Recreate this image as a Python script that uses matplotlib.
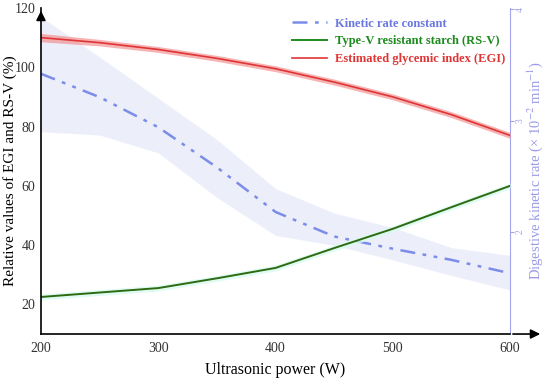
import matplotlib.pyplot as plt

# ultrasonic power (W)
power = [200, 250, 300, 350, 400, 450, 500, 550, 600]

# estimated glycemic index (%)
egi = [110, 108.3, 106, 103, 99.5, 95, 90, 84, 77]
egi_lo = [108.6, 107.2, 105, 102, 98.5, 94, 89, 83, 76]
egi_hi = [111.4, 109.4, 107, 104, 100.5, 96, 91, 85, 78]

# type-V resistant starch (%)
rsv = [22.5, 24, 25.5, 28.8, 32.3, 39, 45.5, 52.8, 60]
rsv_lo = [21.5, 23, 24.5, 27.8, 31.3, 38, 44.5, 51.8, 59]
rsv_hi = [23.5, 25, 26.5, 29.8, 33.3, 40, 46.5, 53.8, 61]

# kinetic rate constant (x 10^-2 min^-1)
krc = [3.42, 3.21, 2.94, 2.58, 2.18, 1.96, 1.85, 1.75, 1.63]
krc_lo = [2.90, 2.87, 2.71, 2.31, 1.97, 1.88, 1.75, 1.61, 1.48]
krc_hi = [3.93, 3.57, 3.20, 2.83, 2.39, 2.17, 2.04, 1.86, 1.79]

serif = 'Liberation Serif'
plt.rcParams['font.family'] = serif
plt.rcParams['mathtext.fontset'] = 'stix'

fig = plt.figure(figsize=(5.5, 3.8), dpi=100)
ax = fig.add_axes([0.0745, 0.121, 0.853, 0.858])
ax2 = ax.twinx()

red = '#e03535'
green = '#2f6a12'
blue = '#7b8de8'
lav = '#a4a4ee'
dashdot = (0, (6, 3, 1.5, 3, 1.5, 3))

# right axis: kinetic rate
ax2.fill_between(power, krc_lo, krc_hi, color='#e9ecfa', alpha=0.85, lw=0)
ax2.plot(power, krc, color=blue, lw=1.8, ls=dashdot)
ax2.set_ylim(1.085, 4.01)
ax2.set_yticks([2, 3, 4])
ax2.set_yticklabels(['2', '3', '4'], rotation=90, color=lav, fontsize=7, va='center')
ax2.tick_params(axis='y', colors=lav, length=3, width=0.8, pad=1)
ax2.set_ylabel('Digestive kinetic rate (× 10$^{-2}$ min$^{-1}$)', color='#9a9ae8',
               fontsize=10.5)
ax2.yaxis.set_label_coords(1.032, 0.5)
for s in ['top', 'left', 'bottom']:
    ax2.spines[s].set_visible(False)
ax2.spines['right'].set_color(lav)
ax2.spines['right'].set_linewidth(0.8)

# left axis
ax.set_zorder(ax2.get_zorder() + 1)
ax.patch.set_visible(False)
ax.fill_between(power, egi_lo, egi_hi, color='#f28a8a', alpha=0.65, lw=0)
ax.plot(power, egi, color=red, lw=1.2)
ax.fill_between(power, rsv_lo, rsv_hi, color='#d8fbef', alpha=0.8, lw=0)
ax.plot(power, rsv, color=green, lw=1.4)
ax.set_xlim(200, 600)
ax.set_ylim(10, 120)
ax.set_xticks([200, 300, 400, 500, 600])
ax.set_yticks([20, 40, 60, 80, 100, 120])
ax.tick_params(length=0, labelsize=10, colors='#333333', pad=6)
ax.tick_params(axis='y', pad=4)
ax.set_xlabel('Ultrasonic power (W)', fontsize=11.5, labelpad=5)
ax.set_ylabel('Relative values of EGI and RS-V (%)', fontsize=11)
ax.yaxis.set_label_coords(-0.052, 0.5)
for s in ['top', 'right']:
    ax.spines[s].set_visible(False)
ax.spines['left'].set_linewidth(1.2)
ax.spines['bottom'].set_linewidth(1.2)

# axis arrows
ax.annotate('', xy=(0, 1.0), xytext=(0, 0.96), xycoords='axes fraction',
            arrowprops=dict(arrowstyle='-|>', color='black', lw=1.2, mutation_scale=14),
            annotation_clip=False)
ax.annotate('', xy=(1.07, 0), xytext=(1.0, 0), xycoords='axes fraction',
            arrowprops=dict(arrowstyle='-|>', color='black', lw=1.2, mutation_scale=14),
            annotation_clip=False)

# legend
h1, = ax.plot([], [], color=blue, lw=1.8, ls=dashdot)
h2, = ax.plot([], [], color='#1e8a1e', lw=1.4)
h3, = ax.plot([], [], color=red, lw=1.2)
leg = ax.legend([h1, h2, h3],
                ['Kinetic rate constant', 'Type-V resistant starch (RS-V)',
                 'Estimated glycemic index (EGI)'],
                loc='upper left', bbox_to_anchor=(0.525, 0.985), frameon=False,
                prop={'family': serif, 'weight': 'bold', 'size': 9},
                handlelength=2.8, handletextpad=0.6, labelspacing=0.45, borderaxespad=0)
for t, c in zip(leg.get_texts(), ['#6a78e0', '#1e8a1e', '#e03535']):
    t.set_color(c)

fig.savefig('out.png', dpi=100)
